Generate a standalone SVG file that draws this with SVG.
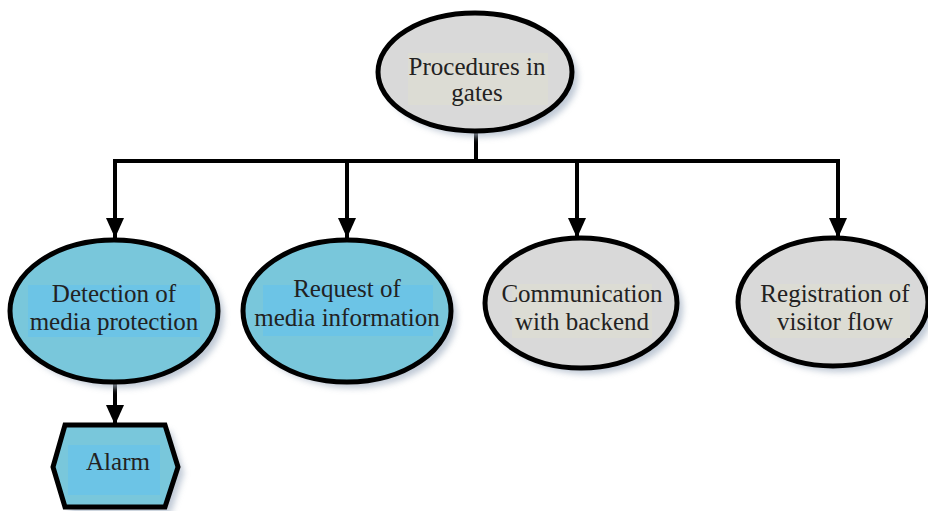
<svg xmlns="http://www.w3.org/2000/svg" width="928" height="511" viewBox="0 0 928 511">
<defs>
<filter id="sh" x="-20%" y="-20%" width="140%" height="140%"><feGaussianBlur stdDeviation="3"/></filter>
<marker id="ah" viewBox="0 0 20 18" refX="20" refY="9" markerWidth="20" markerHeight="18" markerUnits="userSpaceOnUse" orient="auto"><path d="M0,0 L20,9 L0,18 Z" fill="#000"/></marker>
</defs>
<style>
.shadow{fill:#aab7c8;opacity:0.75;filter:url(#sh)}
.blue{fill:#79c7db;stroke:#000;stroke-width:5}
.grey{fill:#d9d9d9;stroke:#000;stroke-width:5}
.hb{fill:#6cc4e6}
.hg{fill:#dcdcd4}
.t{font-family:"Liberation Serif","Times New Roman",serif;font-size:25px;fill:#222;text-anchor:middle}
.c{fill:none;stroke:#000;stroke-width:4}
</style>
<rect width="928" height="511" fill="#fff"/>
<g id="connectors">
<path class="c" d="M476,130 V161"/>
<path class="c" d="M115,161 H838"/>
<path class="c" d="M115,159 V238" marker-end="url(#ah)"/>
<path class="c" d="M347,161 V238" marker-end="url(#ah)"/>
<path class="c" d="M577,161 V238" marker-end="url(#ah)"/>
<path class="c" d="M838,159 V238" marker-end="url(#ah)"/>
<path class="c" d="M115,384 V425" marker-end="url(#ah)"/>
</g>
<g id="procedures">
<ellipse class="shadow" cx="481" cy="78" rx="97" ry="59"/>
<ellipse class="grey" cx="475" cy="72" rx="97" ry="59"/>
<rect class="hg" x="408" y="53" width="140" height="52"/>
<text class="t" x="477" y="75">Procedures in</text>
<text class="t" x="477" y="101">gates</text>
</g>
<g id="detection">
<ellipse class="shadow" cx="120" cy="317" rx="104" ry="71"/>
<ellipse class="blue" cx="114" cy="311" rx="104" ry="71"/>
<rect class="hb" x="28" y="285" width="172" height="52"/>
<text class="t" x="114" y="302">Detection of</text>
<text class="t" x="114" y="330">media protection</text>
</g>
<g id="request">
<ellipse class="shadow" cx="353" cy="317" rx="104" ry="71"/>
<ellipse class="blue" cx="347" cy="311" rx="104" ry="71"/>
<rect class="hb" x="263" y="285" width="170" height="51"/>
<text class="t" x="347" y="297">Request of</text>
<text class="t" x="347" y="326">media information</text>
</g>
<g id="communication">
<ellipse class="shadow" cx="587" cy="309" rx="96" ry="65"/>
<ellipse class="grey" cx="581" cy="303" rx="96" ry="65"/>
<rect class="hg" x="512" y="284" width="140" height="54"/>
<text class="t" x="582" y="302">Communication</text>
<text class="t" x="582" y="330">with backend</text>
</g>
<g id="registration">
<ellipse class="shadow" cx="839" cy="308" rx="95" ry="64"/>
<ellipse class="grey" cx="833" cy="302" rx="95" ry="64"/>
<rect class="hg" x="770" y="284" width="140" height="54"/>
<text class="t" x="835" y="302">Registration of</text>
<text class="t" x="835" y="330">visitor flow</text>
</g>
<g id="alarm">
<polygon class="shadow" points="71,431 171,431 184,473 171,513 71,513 59,473"/>
<polygon class="blue" points="65,425 165,425 178,467 165,507 65,507 53,467"/>
<rect class="hb" x="68" y="445" width="92" height="50"/>
<text class="t" x="118" y="470">Alarm</text>
</g>
</svg>
